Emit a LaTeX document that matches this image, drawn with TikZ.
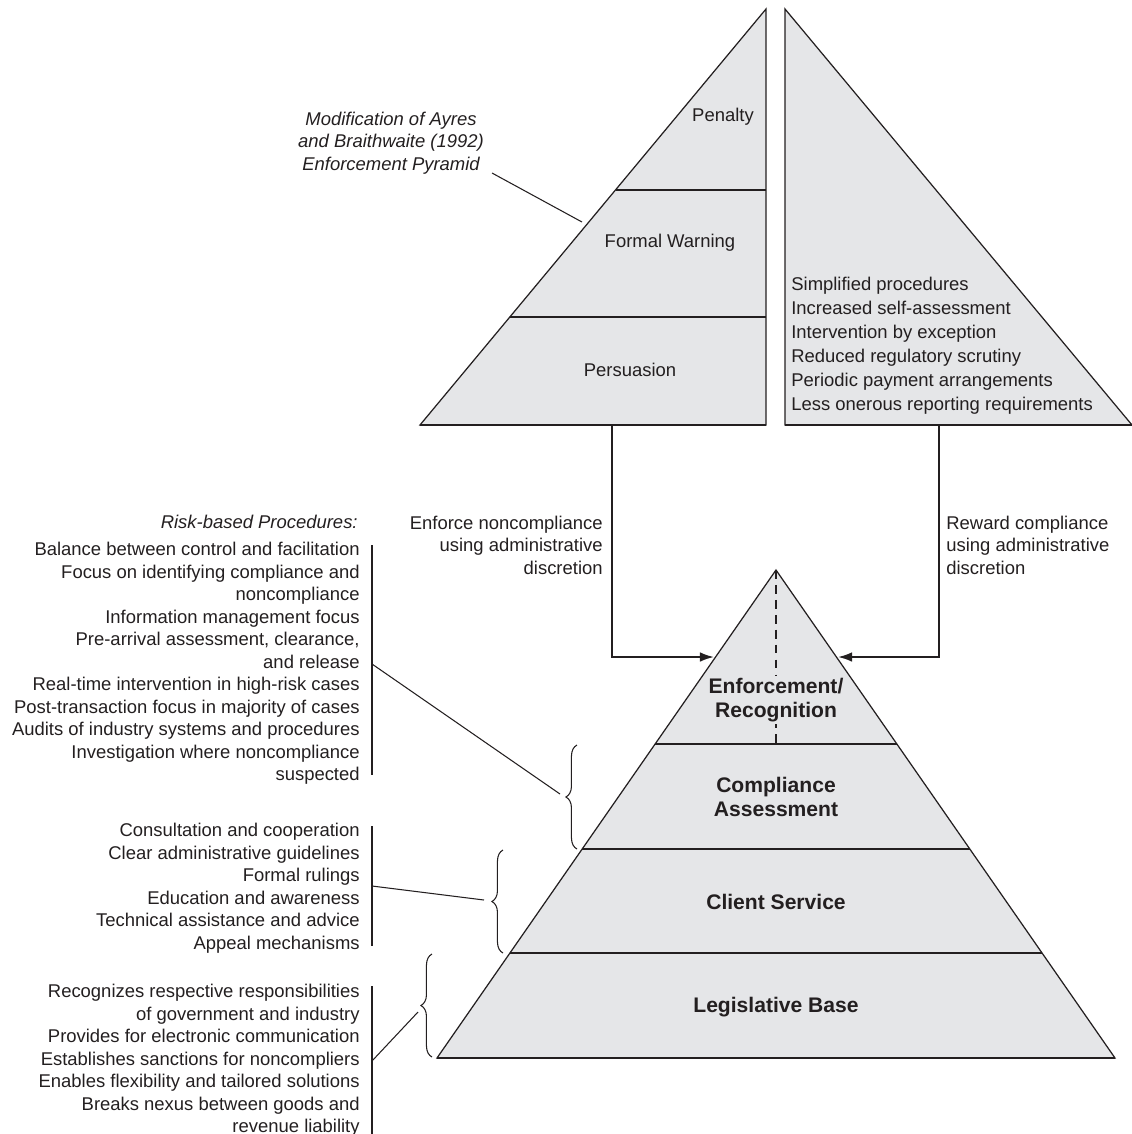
\documentclass[tikz,border=0pt]{standalone}
\usepackage{fontspec}
\setmainfont{Liberation Sans}
\usetikzlibrary{arrows.meta,decorations.pathreplacing}

\definecolor{pyrgray}{RGB}{229,230,232}
\definecolor{ink}{RGB}{35,31,32}

\tikzset{
  pyr/.style={fill=pyrgray,draw=ink,line width=0.7pt},
  sep/.style={draw=ink,line width=1.2pt},
  lbl/.style={font=\fontsize{10.5}{12.8}\selectfont,text=ink,inner sep=0pt},
  big/.style={font=\fontsize{12}{13.7}\selectfont\bfseries,text=ink,align=center,inner sep=1pt},
  lead/.style={draw=ink,line width=0.6pt},
  brc/.style={draw=ink,line width=0.6pt,decorate,decoration={brace,amplitude=6.3pt}},
  flow/.style={draw=ink,line width=1.1pt,-{Latex[length=8pt,width=5.5pt]}},
}

\begin{document}
\begin{tikzpicture}[x=0.02cm,y=-0.02cm]
\useasboundingbox (0,0) rectangle (1132,1134);

\draw [pyr] (766,9) -- (420,425) -- (766,425) -- cycle;
\draw [pyr] (785,9) -- (785,425) -- (1132,425) -- cycle;
\draw [sep] (615.5,190) -- (766,190);
\draw [sep] (509.8,317) -- (766,317);
\draw [sep] (420,425) -- (766,425);
\draw [sep] (785,425) -- (1132,425);

\draw [pyr] (776,570) -- (437,1058) -- (1115,1058) -- cycle;
\draw [draw=ink,line width=0.8pt,dash pattern=on 5pt off 3.5pt] (776,570) -- (776,744);
\draw [sep] (655.1,744) -- (896.9,744);
\draw [sep] (582.2,849) -- (969.8,849);
\draw [sep] (509.9,953) -- (1042.1,953);
\draw [sep] (437,1058) -- (1115,1058);

\node [lbl] (pen) at (723,117) {Penalty};
\node [lbl] (warn) at (670,243) {Formal Warning};
\node [lbl] (pers) at (630,370) {Persuasion};

\node [lbl,align=left,anchor=west,font=\fontsize{10.5}{13.7}\selectfont] (perks) at (791,346) {Simplified procedures\\Increased self-assessment\\Intervention by exception\\Reduced regulatory scrutiny\\Periodic payment arrangements\\Less onerous reporting requirements};

\node [lbl,align=center,font=\fontsize{10.5}{12.8}\selectfont\itshape] (ayres) at (391,143) {Modification of Ayres\\and Braithwaite (1992)\\Enforcement Pyramid};
\coordinate (ayrA) at (492,173);
\coordinate (ayrB) at (582,222);
\draw [lead] (ayrA) -- (ayrB);

\node [lbl,align=right,anchor=east] (enfl) at (603,545) {Enforce noncompliance\\using administrative\\discretion};
\node [lbl,align=left,anchor=west] (rewl) at (946,545) {Reward compliance\\using administrative\\discretion};

\coordinate (lout) at (612,425);
\coordinate (lin) at (714,657);
\coordinate (rout) at (939,425);
\coordinate (rin) at (838,657);
\draw [flow] (lout) |- (lin);
\draw [flow] (rout) |- (rin);

\node [big,fill=pyrgray] (enf) at (776,700) {Enforcement/\\Recognition};
\node [big] (comp) at (776,797) {Compliance\\Assessment};
\node [big] (cli) at (776,902) {Client Service};
\node [big] (leg) at (776,1007) {Legislative Base};

\node [lbl,font=\fontsize{10.5}{12.8}\selectfont\itshape,anchor=east] (risk) at (358,522) {Risk-based Procedures:};
\node [lbl,align=right,anchor=east] (riskl) at (360,663.5) {Balance between control and facilitation\\Focus on identifying compliance and\\noncompliance\\Information management focus\\Pre-arrival assessment, clearance,\\and release\\Real-time intervention in high-risk cases\\Post-transaction focus in majority of cases\\Audits of industry systems and procedures\\Investigation where noncompliance\\suspected};
\node [lbl,align=right,anchor=east] (servl) at (360,888) {Consultation and cooperation\\Clear administrative guidelines\\Formal rulings\\Education and awareness\\Technical assistance and advice\\Appeal mechanisms};
\node [lbl,align=right,anchor=east] (legl) at (360,1060.5) {Recognizes respective responsibilities\\of government and industry\\Provides for electronic communication\\Establishes sanctions for noncompliers\\Enables flexibility and tailored solutions\\Breaks nexus between goods and\\revenue liability};

\draw [lead] (372,545) -- (372,775);
\draw [lead] (372,826) -- (372,946);
\draw [lead] (372,986) -- (372,1134);

\draw [brc] (577,849) -- (577,745);
\draw [brc] (503,953) -- (503,850);
\draw [brc] (432,1057) -- (432,954);

\coordinate (bar1) at (372,664);
\coordinate (tip1) at (560,794);
\coordinate (bar2) at (372,886);
\coordinate (tip2) at (484,900);
\coordinate (bar3) at (372,1061);
\coordinate (tip3) at (418,1012);
\draw [lead] (bar1) -- (tip1);
\draw [lead] (bar2) -- (tip2);
\draw [lead] (bar3) -- (tip3);

\end{tikzpicture}
\end{document}
